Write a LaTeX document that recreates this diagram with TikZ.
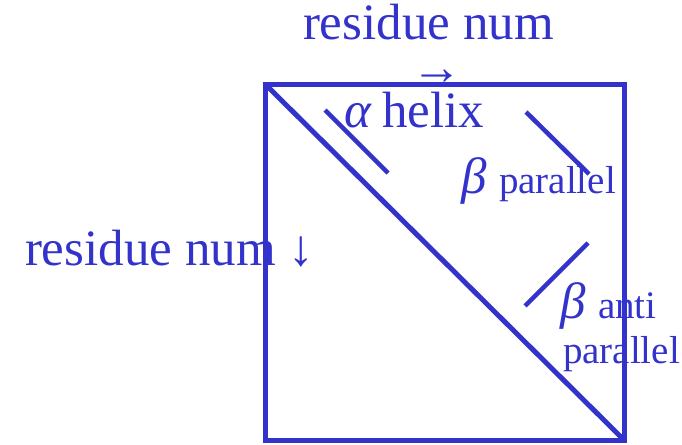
\documentclass[tikz,border=0pt]{standalone}
\usepackage{fontspec}
\setmainfont{Liberation Serif}
\definecolor{ink}{RGB}{51,51,204}
\begin{document}
\begin{tikzpicture}[x=1pt,y=-1pt,
  txt/.style={inner sep=0pt, outer sep=0pt, text=ink, anchor=base west},
  big/.style={font=\fontsize{51}{55}\selectfont},
  small/.style={font=\fontsize{39}{43}\selectfont},
  frame/.style={draw=ink, line width=5pt},
  seg/.style={draw=ink, line width=4.5pt}]
\useasboundingbox (0,0) rectangle (682,444);
\coordinate (tl) at (265,84);
\coordinate (br) at (624,440);
\draw[frame] (tl) rectangle (br);
\draw[frame] (tl) -- (br);
% segments
\coordinate (a1) at (325,110); \coordinate (a2) at (388,173);
\coordinate (p1) at (526,112); \coordinate (p2) at (589,174);
\coordinate (q1) at (525,306); \coordinate (q2) at (588,243);
\draw[seg] (a1) -- (a2);
\draw[seg] (p1) -- (p2);
\draw[seg] (q1) -- (q2);
% labels
\node[txt,big] (top) at (303,40) {residue num};
\node[txt,big,text depth=0pt] (arr) at (411,84) {→};
\node[txt,big] (left) at (25,265) {residue num ↓};
\node[txt,big] (alpha) at (344,127) {\itshape α};
\node[txt,big,text height=26pt] (helix) at (382,127) {helix};
\node[txt,big] (beta1) at (461,193) {\itshape β};
\node[txt,small] (par1) at (499,193) {parallel};
\node[txt,big] (beta2) at (560,318) {\itshape β};
\node[txt,small] (anti) at (598,318) {anti};
\node[txt,small] (par2) at (563,363) {parallel};
\end{tikzpicture}
\end{document}
